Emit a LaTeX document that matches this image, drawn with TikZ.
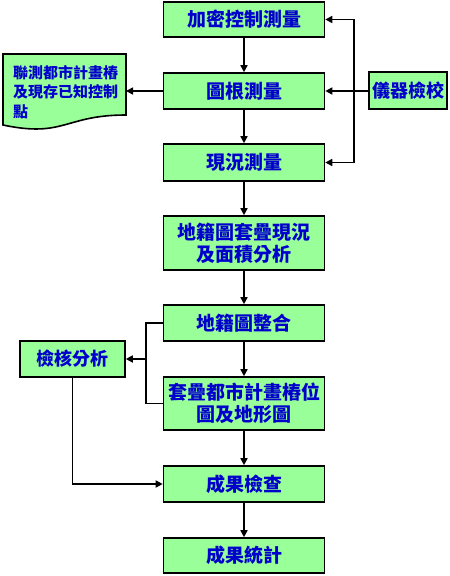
\documentclass[tikz,border=0pt]{standalone}
\usepackage{fontspec}
\newfontfamily\cjk{Noto Sans CJK TC}
\usetikzlibrary{arrows.meta}
\definecolor{boxgreen}{RGB}{153,255,153}
\definecolor{txtblue}{RGB}{0,0,204}
\begin{document}
\begin{tikzpicture}[x=1pt,y=-1pt,
  mainbox/.style={draw=black,line width=1.6pt,fill=boxgreen,inner sep=0pt,
    minimum width=161pt,align=center,text=txtblue,
    font=\cjk\bfseries\fontsize{19}{22}\selectfont},
  sidebox/.style={draw=black,line width=1.6pt,fill=boxgreen,inner sep=0pt,
    align=center,text=txtblue,font=\cjk\bfseries\fontsize{18}{21}\selectfont},
  arr/.style={line width=1.6pt,-{Triangle[length=7pt,width=7pt]}},
  ln/.style={line width=1.6pt}]
\useasboundingbox (0,0) rectangle (450,576);
% main column
\node[mainbox,minimum height=35pt] (b1) at (244,19.5) {加密控制測量};
\node[mainbox,minimum height=36pt] (b2) at (244,91) {圖根測量};
\node[mainbox,minimum height=37pt] (b3) at (244,162.5) {現況測量};
\node[mainbox,minimum height=54pt] (b4) at (244,243) {地籍圖套疊現況\\及面積分析};
\node[mainbox,minimum height=36pt] (b5) at (244,323) {地籍圖整合};
\node[mainbox,minimum height=53pt] (b6) at (244,403.5) {套疊都市計畫樁位\\圖及地形圖};
\node[mainbox,minimum height=36pt] (b7) at (244,484) {成果檢查};
\node[mainbox,minimum height=35pt] (b8) at (244,555.5) {成果統計};
% side boxes
\node[sidebox,minimum width=78pt,minimum height=37pt] (cal) at (408,90.5) {儀器檢校};
\node[sidebox,minimum width=105pt,minimum height=36pt] (chk) at (72.5,359) {檢核分析};
% document shape
\draw[line width=1.6pt,fill=boxgreen] (3,54) -- (126,54) -- (126,115)
  .. controls (64.5,115) and (64.5,138) .. (3,125) -- cycle;
\node[inner sep=0pt,align=left,text=txtblue,
  font=\cjk\bfseries\fontsize{15}{19.5}\selectfont] (doc) at (65.5,92)
  {聯測都市計畫樁\\及現存已知控制\\點};
\coordinate (docR) at (126,91);
% vertical flow
\draw[arr] (b1) -- (b2);
\draw[arr] (b2) -- (b3);
\draw[arr] (b3) -- (b4);
\draw[arr] (b4) -- (b5);
\draw[arr] (b5) -- (b6);
\draw[arr] (b6) -- (b7);
\draw[arr] (b7) -- (b8);
% instrument calibration
\coordinate (jr) at (354,91);
\draw[arr] (cal.west |- b2.east) -- (b2.east);
\draw[arr] (jr) |- (b1.east);
\draw[arr] (jr) |- (b3.east);
% document
\draw[arr] (b2.west) -- (docR);
% check analysis bracket
\coordinate (jl) at (146,359);
\draw[ln] (b5.west) -| (jl) |- (b6.west);
\draw[arr] (jl) -- (chk.east);
\draw[arr] (chk.south) |- (b7.west);
\end{tikzpicture}
\end{document}
